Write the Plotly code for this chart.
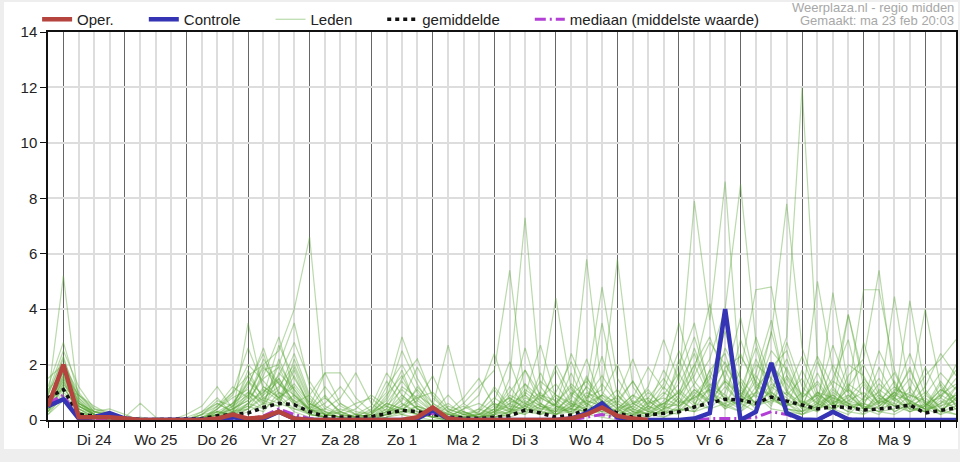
import pandas as pd
import plotly.graph_objects as go

# 6-hourly steps, 23 feb 18:00 .. 10 mrt 12:00
tijden = pd.date_range("2026-02-23 18:00", periods=60, freq="6h")

dag_labels = ["Di 24", "Wo 25", "Do 26", "Vr 27", "Za 28", "Zo 1", "Ma 2",
              "Di 3", "Wo 4", "Do 5", "Vr 6", "Za 7", "Zo 8", "Ma 9"]
dag_midden = pd.date_range("2026-02-24 12:00", periods=14, freq="D")

# operationele run (stopt na Do 5)
oper = [0.5, 2.0, 0.1, 0.1, 0.1, 0.05, 0, 0, 0, 0, 0, 0.05, 0.2, 0.05, 0.1, 0.3, 0.05, 0, 0, 0, 0,
        0, 0, 0, 0.1, 0.45, 0.05, 0, 0, 0, 0, 0, 0, 0, 0.05, 0.2, 0.45, 0.15, 0.05, 0]

controle = [0.5, 0.75, 0.05, 0.1, 0.25, 0.05, 0, 0, 0, 0, 0, 0.02, 0.1, 0.02, 0.05, 0.3, 0.05, 0, 0, 0, 0,
            0, 0, 0, 0.05, 0.35, 0.05, 0, 0, 0, 0, 0, 0, 0, 0.05, 0.25, 0.6, 0.1, 0, 0, 0,
            0, 0.05, 0.25, 4.0, 0, 0.3, 2.06, 0.25, 0.02, 0, 0.3, 0.02, 0, 0, 0, 0, 0, 0, 0]

gemiddelde = [0.8, 1.1, 0.2, 0.15, 0.1, 0.05, 0.02, 0.02, 0.02, 0.02, 0.05, 0.15, 0.2, 0.25, 0.45, 0.6, 0.55, 0.3, 0.12, 0.1, 0.1,
              0.12, 0.25, 0.35, 0.3, 0.2, 0.1, 0.08, 0.05, 0.1, 0.15, 0.36, 0.25, 0.1, 0.18, 0.36, 0.47, 0.25, 0.1, 0.18, 0.25,
              0.3, 0.47, 0.6, 0.75, 0.72, 0.6, 0.83, 0.7, 0.54, 0.4, 0.48, 0.45, 0.36, 0.4, 0.45, 0.54, 0.25, 0.35, 0.43]

mediaan = [0.6, 0.9, 0.05, 0, 0, 0, 0, 0, 0, 0, 0, 0, 0.05, 0.02, 0.15, 0.4, 0.2, 0.05, 0, 0, 0,
           0, 0, 0, 0.05, 0.25, 0.05, 0, 0, 0, 0, 0, 0, 0, 0, 0.1, 0.2, 0.05, 0, 0, 0,
           0, 0, 0.05, 0.05, 0.05, 0.1, 0.3, 0.2, 0, 0, 0.25, 0.05, 0, 0, 0, 0, 0, 0, 0]

leden = [
    [0.8, 5.2, 0.6, 0.2, 0.1, 0, 0, 0, 0, 0, 0, 0.1, 0.3, 0.4, 1.2, 0.8, 0.3, 0.1, 0, 0, 0.2,
     0.3, 0.5, 0.2, 0, 0, 0, 0.1, 0.2, 0.5, 0.8, 0.4, 0.2, 0.3, 0.6, 0.2, 0.1, 0, 0.2, 0.5, 0.3,
     0.4, 1.1, 0.6, 1.4, 0.8, 2.0, 1.5, 3.0, 12.0, 2.2, 0.6, 0.3, 0.2, 0.5, 1.0, 0.4, 0.3, 0.6, 1.2],
    [1.2, 2.8, 0.9, 0.3, 0.2, 0.1, 0, 0, 0, 0, 0.2, 0.5, 1.0, 1.6, 2.0, 2.5, 4.0, 6.6, 0.8, 0.3, 0.1,
     0, 0.2, 0.6, 0.3, 0.1, 0, 0.3, 0.1, 0.4, 1.0, 1.8, 0.6, 0.2, 0.5, 1.5, 0.8, 0.4, 0.1, 0.3, 0.6,
     1.0, 0.5, 1.8, 2.4, 0.6, 0.3, 1.2, 0.8, 0.3, 0.5, 2.0, 1.0, 0.4, 0.2, 0.8, 1.5, 0.6, 0.3, 0.8],
    [0.4, 1.8, 0.3, 0.1, 0, 0, 0, 0, 0, 0, 0.3, 0.8, 0.2, 3.5, 1.0, 1.5, 0.6, 0.3, 0.1, 0, 0,
     0.2, 1.2, 2.0, 1.0, 0.3, 0.1, 0, 0, 0.2, 1.5, 7.3, 1.2, 0.5, 0.2, 0.8, 1.6, 0.7, 0.3, 0.1, 0.4,
     2.0, 3.5, 1.0, 0.5, 0.3, 1.0, 2.5, 1.8, 0.6, 0.4, 1.2, 3.8, 1.5, 0.8, 0.3, 0.6, 1.0, 0.4, 0.2],
    [0.6, 1.5, 0.4, 0.1, 0.1, 0, 0, 0, 0, 0, 0, 0.1, 0.4, 0.8, 2.2, 1.3, 0.9, 0.4, 0.2, 0.1, 0,
     0, 0.1, 0.5, 0.8, 1.0, 0.4, 0.2, 0.1, 0.3, 0.6, 0.9, 2.7, 0.8, 0.4, 0.3, 0.7, 0.2, 0.5, 1.2, 2.9,
     1.4, 7.9, 3.6, 8.6, 1.2, 0.6, 1.5, 0.9, 0.5, 0.3, 1.0, 0.6, 0.2, 1.1, 0.7, 0.4, 0.3, 1.0, 1.8],
    [0.3, 1.3, 0.5, 0.2, 0.1, 0, 0, 0, 0, 0, 0, 0.2, 0.6, 1.4, 0.9, 2.7, 1.5, 0.6, 0.3, 0.2, 0.1,
     0, 0.3, 0.9, 0.4, 0.2, 0, 0, 0.3, 0.8, 0.4, 1.1, 0.7, 1.8, 0.6, 5.8, 1.0, 0.5, 0.2, 0.1, 0.4,
     0.6, 1.3, 2.2, 4.0, 8.5, 2.8, 0.9, 0.4, 0.3, 0.7, 0.4, 1.2, 2.0, 0.9, 0.5, 0.3, 0.6, 0.2, 0.4],
    [0.9, 2.2, 0.8, 0.2, 0.1, 0, 0, 0, 0, 0, 0.1, 0.3, 0.2, 0.5, 1.8, 2.0, 3.5, 1.2, 0.4, 0.8, 1.7,
     0.6, 0.2, 0.3, 0.5, 0.2, 0.1, 0.4, 0.6, 0.3, 0.2, 0.5, 1.4, 0.9, 0.5, 1.2, 4.8, 1.5, 0.6, 0.3, 0.2,
     0.5, 1.0, 0.6, 1.9, 2.3, 1.4, 3.1, 7.8, 2.6, 1.0, 0.5, 0.8, 1.4, 0.6, 1.0, 0.7, 0.4, 0.9, 1.3],
    [0.5, 1.6, 0.6, 0.3, 0.1, 0, 0, 0, 0, 0.1, 0.3, 0.6, 0.3, 1.0, 0.6, 1.1, 2.4, 0.9, 0.3, 0.1, 0,
     0.1, 0.4, 1.5, 2.2, 0.8, 0.3, 0.1, 0, 0.1, 0.3, 0.7, 0.4, 0.6, 1.3, 0.8, 1.1, 5.8, 1.2, 0.4, 0.1,
     0.3, 0.9, 1.6, 0.7, 0.4, 1.0, 2.0, 1.3, 0.6, 5.0, 1.8, 0.7, 0.5, 0.3, 1.1, 0.9, 0.7, 0.3, 0.5],
    [0.2, 0.9, 0.4, 0.2, 0, 0, 0, 0, 0, 0, 0, 0.4, 0.9, 2.0, 1.4, 0.8, 1.2, 0.5, 1.7, 0.6, 0.2,
     0.1, 0.3, 0.4, 0.2, 0.1, 0.2, 0.6, 1.2, 1.8, 5.4, 0.9, 0.3, 0.2, 0.4, 0.3, 0.9, 0.6, 1.4, 0.5, 0.2,
     0.4, 0.3, 0.8, 0.6, 1.4, 0.5, 0.7, 1.0, 0.4, 0.8, 0.3, 1.6, 2.2, 5.4, 1.2, 0.5, 0.3, 0.8, 0.4],
    [0.7, 2.0, 1.0, 0.3, 0.2, 0.1, 0, 0, 0, 0, 0.2, 0.7, 0.5, 1.2, 2.6, 0.9, 0.4, 0.2, 0.1, 0.6, 0.3,
     0.2, 0.8, 2.5, 1.3, 0.4, 0.2, 0.1, 0.2, 0.6, 0.4, 0.2, 1.0, 4.4, 1.1, 0.6, 0.3, 0.1, 0.3, 0.8, 1.5,
     0.7, 0.4, 1.2, 0.8, 0.5, 1.6, 0.8, 0.4, 0.3, 0.6, 1.4, 1.0, 4.7, 4.7, 1.8, 0.6, 0.4, 0.5, 0.9],
    [0.4, 1.2, 0.3, 0.1, 0.1, 0, 0, 0, 0, 0, 0, 0.2, 0.4, 0.7, 1.5, 1.9, 0.8, 0.4, 0.2, 0.1, 0.1,
     0, 0.1, 0.3, 0.9, 0.5, 0.2, 0.3, 0.1, 0.2, 0.9, 0.6, 0.3, 1.0, 2.1, 0.7, 0.5, 0.3, 0.8, 1.9, 1.1,
     2.5, 1.2, 0.6, 1.5, 0.9, 0.4, 1.1, 2.2, 0.8, 1.3, 0.5, 3.8, 1.2, 0.6, 4.45, 1.0, 0.5, 1.4, 0.7],
    [0.6, 1.9, 0.7, 0.2, 0.1, 0, 0, 0, 0, 0, 0, 0.1, 0.5, 1.6, 0.8, 1.2, 2.0, 0.7, 0.2, 0.1, 0,
     0.3, 0.7, 1.8, 0.4, 0.2, 0.1, 0.1, 0.2, 0.4, 0.2, 1.3, 0.8, 0.5, 0.3, 1.6, 0.4, 0.9, 0.3, 0.2, 0.7,
     1.3, 2.4, 0.9, 0.4, 1.1, 2.6, 0.8, 0.5, 0.7, 0.4, 4.6, 1.2, 0.4, 0.8, 0.6, 4.3, 1.1, 0.4, 0.6],
    [0.3, 1.0, 0.5, 0.2, 0, 0, 0, 0, 0, 0, 0, 0.3, 0.2, 0.9, 0.4, 1.7, 1.1, 0.3, 0.6, 1.2, 0.5,
     0.1, 0.2, 0.4, 0.7, 0.3, 0.1, 0, 0.1, 0.3, 0.5, 0.4, 0.9, 0.7, 0.2, 0.5, 1.3, 0.6, 0.2, 0.4, 0.9,
     1.7, 0.6, 1.1, 0.5, 1.8, 4.7, 4.8, 1.6, 0.5, 0.9, 0.6, 0.3, 0.8, 1.5, 0.7, 1.0, 4.0, 1.2, 0.5],
    [0.5, 1.4, 0.4, 0.1, 0.1, 0, 0, 0, 0, 0, 0.1, 0.2, 0.1, 0.6, 1.1, 0.7, 1.8, 0.4, 0.1, 0, 0,
     0.1, 0.5, 1.1, 0.6, 0.2, 0, 0.1, 0.4, 1.1, 0.3, 0.2, 0.5, 0.3, 0.9, 0.4, 0.2, 0.1, 0.6, 0.8, 0.4,
     0.9, 1.6, 2.8, 2.0, 1.0, 0.6, 1.3, 0.9, 1.5, 0.4, 0.8, 0.6, 0.3, 0.7, 1.2, 0.8, 1.6, 2.2, 2.9],
    [1.0, 2.5, 1.2, 0.4, 0.2, 0.1, 0.6, 0.1, 0, 0, 0, 0.5, 1.2, 0.8, 2.0, 1.0, 0.6, 0.9, 1.7, 1.7, 0.8,
     0.3, 1.4, 0.6, 0.2, 0.5, 2.7, 0.6, 0.2, 0.1, 0.2, 0.8, 0.5, 0.2, 0.7, 0.3, 0.6, 1.1, 0.4, 0.2, 0.3,
     0.8, 0.3, 0.5, 1.2, 0.6, 0.9, 0.4, 0.3, 0.2, 0.5, 0.9, 0.4, 0.6, 0.3, 0.2, 0.5, 0.8, 0.3, 0.2],
    [0.6, 1.7, 0.5, 0.2, 0.1, 0, 0, 0, 0, 0, 0, 0.2, 0.6, 1.3, 2.4, 0.6, 1.6, 0.5, 0.2, 0.3, 0.1,
     0.4, 1.0, 3.0, 1.5, 0.6, 0.2, 0.1, 0, 0.1, 0.3, 1.0, 0.6, 0.3, 0.4, 1.0, 0.7, 0.2, 0.1, 0.5, 1.0,
     0.6, 0.8, 1.3, 0.9, 0.4, 1.2, 1.8, 0.6, 0.5, 1.0, 0.5, 1.3, 0.9, 0.4, 0.6, 0.3, 0.5, 1.1, 0.8],
    [0.2, 0.7, 0.2, 0.1, 0, 0, 0, 0, 0, 0, 0, 0.1, 0.3, 0.5, 0.3, 1.0, 0.7, 0.2, 0.1, 0, 0,
     0, 0.1, 0.2, 0.1, 0, 0, 0.2, 0.4, 0.2, 0.1, 0.3, 0.2, 0.6, 0.2, 0.9, 0.5, 0.3, 0.5, 0.2, 0.1,
     0.4, 0.3, 0.9, 1.8, 0.7, 0.5, 0.8, 0.4, 0.2, 0.6, 0.4, 0.2, 0.7, 1.0, 0.3, 0.6, 0.4, 0.2, 1.0],
    [0.8, 1.1, 0.6, 0.3, 0.1, 0, 0, 0, 0, 0, 0.1, 0.4, 0.8, 1.1, 0.5, 2.2, 0.9, 0.3, 0.4, 0.2, 0.1,
     0, 0.2, 1.2, 0.8, 0.3, 0.1, 0, 0.1, 0.2, 0.6, 0.3, 1.7, 0.6, 1.2, 0.5, 0.3, 0.4, 0.9, 0.6, 1.3,
     3.5, 1.4, 0.7, 2.6, 1.5, 0.8, 3.2, 1.1, 0.4, 2.1, 0.7, 0.5, 1.3, 0.6, 0.9, 1.8, 0.6, 0.8, 1.5],
    [0.4, 1.5, 0.7, 0.2, 0.1, 0, 0, 0, 0, 0, 0.2, 0.3, 0.1, 0.4, 0.9, 1.4, 0.5, 0.2, 0.1, 0.3, 0.6,
     0.8, 0.3, 0.5, 1.1, 0.4, 0.2, 0.1, 0, 0.3, 1.2, 0.5, 0.2, 0.4, 0.8, 2.2, 0.6, 0.2, 0.4, 1.0, 0.5,
     1.1, 0.6, 0.4, 1.0, 2.4, 1.1, 0.5, 1.9, 0.7, 0.3, 1.1, 0.6, 0.5, 1.9, 0.8, 0.4, 0.9, 0.5, 0.7],
    [1.5, 2.0, 0.8, 0.3, 0.4, 0.2, 0, 0, 0, 0, 0, 0, 0.2, 0.6, 0.4, 0.8, 1.3, 0.6, 0.2, 0.1, 0,
     0.1, 0.2, 0.3, 0.2, 0.1, 0.5, 0.3, 0.1, 0.2, 0.4, 0.3, 0.6, 0.2, 0.5, 0.4, 0.3, 0.6, 0.3, 0.2, 0.5,
     0.3, 0.5, 1.8, 0.7, 0.6, 1.4, 0.7, 0.5, 1.0, 0.6, 0.3, 0.9, 0.4, 0.6, 1.4, 0.5, 0.3, 0.7, 0.4],
    [0.3, 1.2, 0.3, 0.1, 0, 0, 0, 0, 0, 0, 0, 0, 0.1, 0.3, 0.6, 0.5, 0.9, 0.4, 0.1, 0, 0.1,
     0.2, 0.6, 0.4, 0.3, 0.1, 0, 0.2, 0.1, 0.1, 0.2, 0.6, 0.4, 0.3, 1.0, 0.6, 0.2, 0.4, 0.1, 0.7, 0.3,
     0.2, 0.9, 0.4, 0.6, 0.3, 0.7, 1.0, 0.6, 0.2, 0.4, 0.6, 1.1, 0.5, 0.3, 0.4, 0.9, 0.6, 0.3, 1.2],
    [0.5, 1.4, 0.5, 0.2, 0.1, 0, 0, 0, 0, 0.2, 0.5, 1.2, 0.4, 0.7, 1.6, 3.0, 1.0, 0.3, 0.2, 0.1, 0,
     0.1, 0.3, 0.7, 1.9, 0.9, 0.3, 0.1, 0, 0.2, 0.3, 0.5, 0.3, 0.9, 0.6, 0.4, 3.5, 0.9, 0.4, 0.2, 0.6,
     1.0, 2.0, 0.8, 0.5, 0.7, 3.0, 1.4, 0.6, 0.3, 1.0, 0.8, 0.5, 0.4, 0.7, 0.5, 1.2, 0.3, 0.6, 0.9],
    [0.7, 1.9, 0.6, 0.2, 0.1, 0, 0, 0, 0, 0, 0, 0.2, 0.4, 1.8, 0.7, 0.5, 2.2, 0.8, 0.2, 0.4, 0.2,
     0.1, 0.4, 0.2, 0.5, 0.3, 0.9, 0.3, 0.1, 0.4, 0.8, 0.4, 0.3, 0.2, 0.3, 0.7, 0.5, 0.3, 0.2, 0.6, 0.8,
     0.5, 1.1, 0.7, 1.4, 0.9, 0.5, 2.1, 1.0, 0.6, 0.9, 0.4, 0.7, 1.0, 0.5, 0.8, 0.3, 0.5, 0.9, 0.6],
    [0.4, 1.1, 0.9, 0.4, 0.3, 0, 0, 0, 0, 0, 0, 0.1, 0.2, 0.4, 0.8, 0.6, 0.4, 0.3, 0.9, 0.2, 0.1,
     0, 0.2, 0.8, 0.4, 0.1, 0, 0, 0.2, 0.6, 0.3, 0.9, 0.5, 0.4, 0.3, 0.6, 0.9, 0.4, 0.6, 0.3, 0.2,
     0.8, 2.0, 3.0, 1.5, 3.7, 1.2, 0.9, 2.8, 1.2, 0.6, 0.9, 0.5, 0.6, 0.4, 0.9, 0.7, 0.4, 1.3, 0.5],
    [0.6, 1.6, 0.4, 0.1, 0.1, 0, 0, 0, 0, 0, 0, 0.3, 0.6, 1.0, 0.7, 1.5, 0.6, 0.2, 0.1, 0, 0,
     0.2, 0.6, 0.4, 0.2, 0.1, 0.3, 0.5, 0.2, 0.3, 0.7, 0.5, 0.8, 0.5, 0.4, 1.2, 0.7, 0.3, 0.7, 0.4, 0.6,
     0.5, 0.8, 1.1, 0.4, 0.7, 1.0, 0.6, 1.5, 0.5, 1.7, 0.6, 0.9, 0.4, 0.9, 0.5, 0.6, 0.5, 0.3, 0.8],
    [0.9, 2.3, 0.5, 0.2, 0.1, 0, 0, 0, 0, 0, 0, 0.4, 1.0, 2.6, 1.2, 0.8, 1.9, 0.6, 0.3, 0.1, 0.2,
     0.5, 1.7, 0.9, 0.4, 0.2, 0.1, 0.4, 0.9, 2.4, 0.7, 1.3, 0.5, 2.0, 0.9, 1.4, 0.6, 0.8, 2.2, 0.7, 0.3,
     1.6, 3.0, 1.2, 2.1, 0.9, 1.7, 3.6, 1.0, 2.3, 0.8, 2.7, 1.1, 0.7, 2.5, 1.3, 0.6, 1.9, 0.8, 2.0],
    [0.3, 0.8, 0.3, 0.1, 0, 0, 0, 0, 0, 0, 0.1, 0.2, 0.5, 0.9, 1.9, 1.3, 0.7, 0.4, 0.8, 0.3, 0.1,
     0.2, 0.9, 1.6, 0.5, 0.3, 0.6, 0.2, 0.1, 0.7, 2.1, 0.6, 1.0, 0.4, 1.7, 0.5, 0.9, 2.0, 0.6, 1.1, 0.4,
     2.2, 0.7, 1.5, 3.2, 1.1, 0.6, 1.9, 2.5, 0.8, 1.4, 0.6, 2.0, 1.6, 0.5, 1.0, 2.4, 0.9, 1.7, 1.1],
    [1.1, 1.7, 0.9, 0.5, 0.2, 0, 0, 0, 0, 0, 0, 0.1, 0.3, 0.6, 1.0, 1.6, 2.8, 1.4, 0.5, 0.2, 0.4,
     0.9, 0.5, 0.3, 1.2, 0.6, 0.3, 0.8, 1.5, 0.5, 0.3, 1.8, 0.9, 0.5, 2.4, 1.1, 0.4, 0.7, 1.4, 0.5, 1.8,
     0.9, 2.6, 1.0, 0.7, 2.9, 1.3, 0.8, 1.6, 0.9, 2.3, 1.2, 0.5, 2.8, 1.0, 1.7, 0.6, 1.2, 2.4, 1.6],
    [0.5, 1.3, 0.6, 0.3, 0.2, 0, 0.1, 0, 0, 0, 0.2, 0.6, 0.3, 1.4, 0.6, 2.0, 1.1, 0.4, 1.2, 0.5, 0.2,
     0.1, 0.6, 1.4, 0.7, 1.6, 0.4, 0.2, 0.3, 1.2, 0.5, 2.6, 0.8, 1.3, 0.5, 0.7, 2.3, 0.4, 0.9, 0.3, 1.2,
     0.6, 1.8, 4.2, 1.3, 0.6, 2.2, 1.0, 0.5, 1.8, 0.7, 1.5, 2.9, 0.6, 1.3, 0.8, 1.9, 0.5, 1.1, 0.7],
]

for lid in leden:
    assert len(lid) == len(tijden), len(lid)

# extra ruimte achter elke legendatekst, zoals in het origineel
pad = "\u00a0" * 6

fig = go.Figure()

for n, lid in enumerate(leden):
    fig.add_trace(go.Scatter(
        x=tijden, y=lid, mode="lines", name="Leden" + pad,
        legendgroup="leden", showlegend=(n == 0), legendrank=3,
        line=dict(color="rgba(90,168,55,0.42)", width=1.2),
        hoverinfo="skip",
    ))

fig.add_trace(go.Scatter(x=tijden, y=mediaan, mode="lines", name="mediaan (middelste waarde)",
                         legendrank=5, line=dict(color="#b33fd6", width=3, dash="11px,4px,2px,4px")))
fig.add_trace(go.Scatter(x=tijden, y=gemiddelde, mode="lines", name="gemiddelde" + pad,
                         legendrank=4, line=dict(color="#111111", width=3.5, dash="4px,4px")))
fig.add_trace(go.Scatter(x=tijden, y=controle, mode="lines", name="Controle" + pad,
                         legendrank=2, line=dict(color="#3434b4", width=4.5)))
# op de overlay-as, zodat de daglabels op de middag getekend worden
fig.add_trace(go.Scatter(x=tijden[:len(oper)], y=oper, mode="lines", name="Oper." + pad,
                         xaxis="x2", legendrank=1, line=dict(color="#b5433e", width=4.5)))

bereik = [tijden[0], tijden[-1]]

fig.update_layout(
    width=960, height=462,
    margin=dict(l=48, r=4, t=32, b=42, autoexpand=False),
    paper_bgcolor="#eeeeee",
    plot_bgcolor="white",
    font=dict(family="Liberation Sans, Arial, sans-serif", size=15, color="#222222"),
    showlegend=True,
    legend=dict(orientation="h", x=-0.012, xanchor="left", y=1.0747, yanchor="top",
                bgcolor="rgba(0,0,0,0)", itemwidth=30, font=dict(size=15),
                traceorder="normal"),
    xaxis=dict(
        type="date", range=bereik,
        tick0="2026-02-24", dtick=86400000,
        showticklabels=False,
        showgrid=True, gridcolor="#666666", gridwidth=1,
        ticks="outside", ticklen=6, tickcolor="#111111",
        minor=dict(dtick=21600000, tick0="2026-02-24", showgrid=True, gridcolor="#dddddd",
                   gridwidth=1.5, ticks="outside", ticklen=6, tickcolor="#111111"),
        showline=True, linecolor="#111111", linewidth=1.5, mirror=True,
        zeroline=False,
    ),
    xaxis2=dict(
        type="date", overlaying="x", matches="x", range=bereik, anchor="y", side="bottom",
        tickmode="array", tickvals=dag_midden, ticktext=dag_labels,
        showgrid=False, ticks="outside", ticklen=6, tickcolor="#111111",
        zeroline=False, showline=False,
    ),
    yaxis=dict(
        range=[0, 14], dtick=2, tick0=0,
        showgrid=True, gridcolor="#dddddd", gridwidth=1.5,
        ticks="outside", ticklen=6, tickcolor="#111111",
        showline=True, linecolor="#111111", linewidth=1.5, mirror=True,
        zeroline=False,
    ),
    shapes=[dict(type="rect", xref="paper", yref="paper", layer="below",
                 x0=-0.0485, x1=1.0022, y0=-0.0747, y1=1.0773,
                 fillcolor="white", line=dict(width=0))],
    annotations=[
        dict(text="Weerplaza.nl - regio midden", xref="paper", yref="paper",
             x=1.0, y=1.0619, xanchor="right", yanchor="middle", showarrow=False,
             font=dict(size=13, color="#a8a8a8")),
        dict(text="Gemaakt: ma 23 feb 20:03", xref="paper", yref="paper",
             x=1.0, y=1.0309, xanchor="right", yanchor="middle", showarrow=False,
             font=dict(size=13, color="#a8a8a8")),
    ],
)

fig.write_html("out.html", config={"displayModeBar": False},
               post_script="document.body.style.margin='0px';")
